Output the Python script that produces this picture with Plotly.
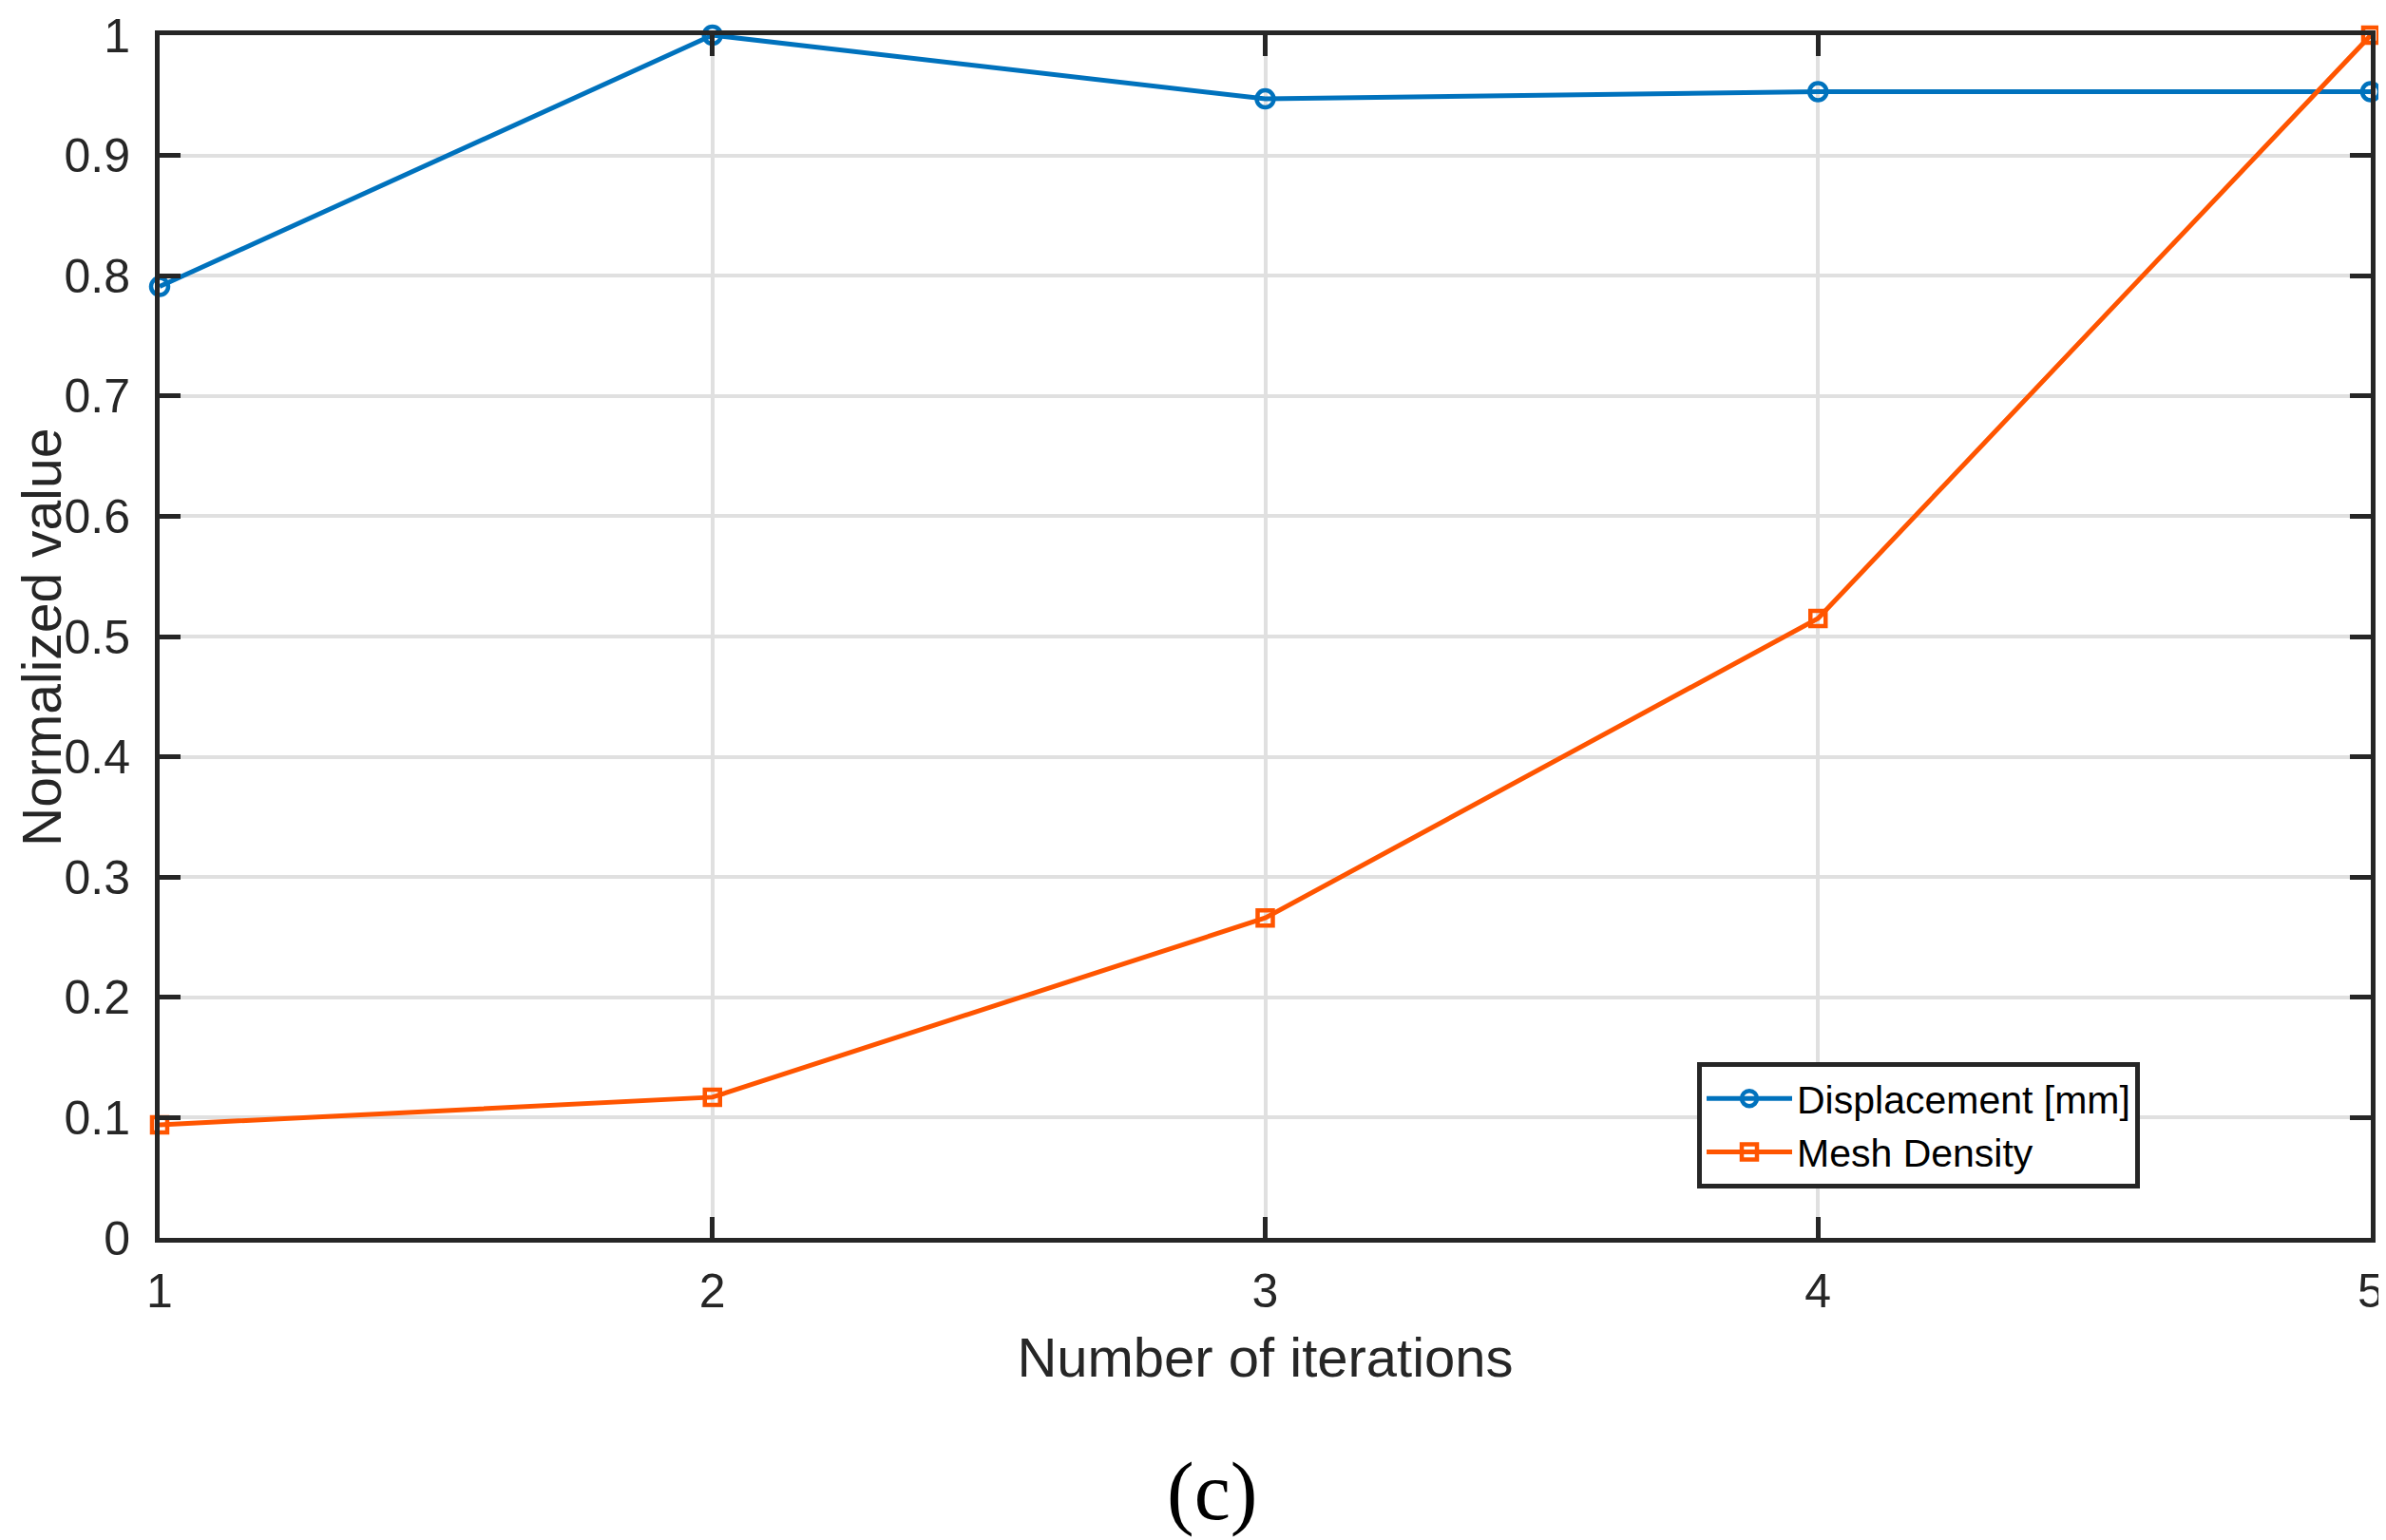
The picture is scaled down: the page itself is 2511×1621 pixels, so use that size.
import plotly.graph_objects as go

iterations = [1, 2, 3, 4, 5]
displacement = [0.791, 1.0, 0.947, 0.953, 0.953]
mesh_density = [0.094, 0.117, 0.266, 0.515, 1.0]
y_ticks = [0, 0.1, 0.2, 0.3, 0.4, 0.5, 0.6, 0.7, 0.8, 0.9, 1]
y_tick_text = ["0", "0.1", "0.2", "0.3", "0.4", "0.5", "0.6", "0.7", "0.8", "0.9", "1"]

W, H = 2511, 1621
L, R, T, B = 160, 24, 29, 326
PW, PH = W - L - R, H - T - B

fig = go.Figure()
fig.add_trace(go.Scatter(
    x=iterations, y=displacement, mode="lines+markers", name="Displacement [mm]",
    line=dict(color="#0072BD", width=5),
    marker=dict(symbol="circle-open", size=18, color="#0072BD", line=dict(width=4.5)),
    cliponaxis=False,
))
fig.add_trace(go.Scatter(
    x=iterations, y=mesh_density, mode="lines+markers", name="Mesh Density",
    line=dict(color="#FF5500", width=5),
    marker=dict(symbol="square-open", size=16, color="#FF5500", line=dict(width=4.5)),
    cliponaxis=False,
))

font_family = "Liberation Sans, Arial, sans-serif"
axis_common = dict(
    showgrid=True, gridcolor="#E0E0E0", gridwidth=4,
    showline=True, linecolor="#262626", linewidth=5, mirror="ticks",
    ticks="inside", ticklen=22, tickwidth=5, tickcolor="#262626",
    zeroline=False, automargin=False,
    tickfont=dict(size=50, color="#262626"),
)
fig.update_layout(
    width=W, height=H,
    margin=dict(l=L, r=R, t=T, b=B),
    paper_bgcolor="white", plot_bgcolor="white",
    font=dict(family=font_family, size=50, color="#262626"),
    showlegend=True,
    legend=dict(
        x=(1778 - L) / PW, y=(H - B - 1110) / PH,
        xanchor="left", yanchor="top",
        bgcolor="white", bordercolor="#262626", borderwidth=5,
        font=dict(size=41, color="#000000"),
        tracegroupgap=0, itemwidth=90,
    ),
    xaxis=dict(
        range=[1, 5], tickvals=iterations, ticktext=[str(v) for v in iterations],
        title=dict(text="Number of iterations", font=dict(size=58, color="#262626"), standoff=24),
        ticklabelstandoff=8,
        **axis_common,
    ),
    yaxis=dict(
        range=[0, 1], tickvals=y_ticks, ticktext=y_tick_text,
        ticklabelstandoff=16,
        **axis_common,
    ),
    annotations=[
        dict(
            text="Normalized value", xref="paper", yref="paper",
            x=(36 - L) / PW, y=(H - B - 663) / PH, textangle=-90,
            xanchor="center", yanchor="middle", showarrow=False,
            font=dict(size=57, color="#262626"),
        ),
        dict(
            text="(c)", xref="paper", yref="paper",
            x=(1267 - L) / PW, y=(H - B - 1562) / PH,
            xanchor="center", yanchor="middle", showarrow=False,
            font=dict(family="Liberation Serif, Times New Roman, serif", size=86, color="#000000"),
        ),
    ],
)
fig.write_html("out.html")
